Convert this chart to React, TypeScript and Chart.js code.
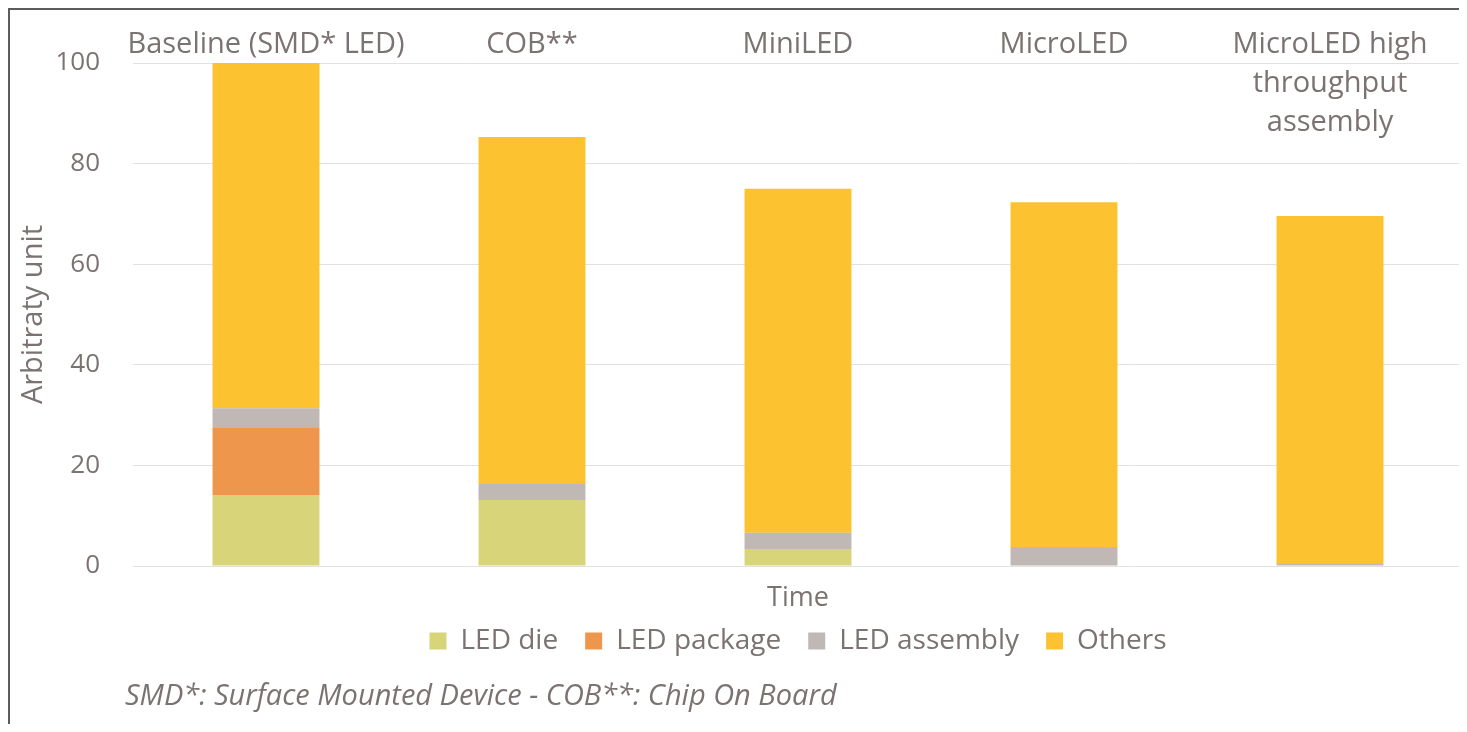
import React, { useEffect, useRef } from "react";
import { Chart, registerables } from "chart.js";

Chart.register(...registerables);

const categories: (string | string[])[] = [
  "Baseline (SMD* LED)",
  "COB**",
  "MiniLED",
  "MicroLED",
  ["MicroLED high", "throughput", "assembly"],
];

const ledDie = [14.1, 13.1, 3.4, 0, 0];
const ledPackage = [13.5, 0, 0, 0, 0];
const ledAssembly = [3.75, 3.2, 3.2, 3.8, 0.4];
const others = [68.65, 69.0, 68.4, 68.5, 69.2];

const yTicks = [0, 20, 40, 60, 80, 100];

const TEXT = "#7b7371";
const FONT = "'Open Sans'";

const topLabelsPlugin = {
  id: "topLabels",
  afterDraw(chart: any) {
    const { ctx, scales } = chart;
    const xs = scales.x;
    ctx.save();
    ctx.fillStyle = TEXT;
    ctx.font = `29px ${FONT}`;
    ctx.textAlign = "center";
    ctx.textBaseline = "middle";
    categories.forEach((lab, i) => {
      const lines = Array.isArray(lab) ? lab : [lab];
      const x = xs.getPixelForValue(i);
      lines.forEach((ln, j) => {
        ctx.fillText(ln, x, 35 + j * 39);
      });
    });
    ctx.restore();
  },
};

export default function App() {
  const ref = useRef<HTMLCanvasElement | null>(null);

  useEffect(() => {
    if (!ref.current) return;
    Chart.defaults.color = TEXT;
    Chart.defaults.font.family = FONT;
    const chart = new Chart(ref.current, {
      type: "bar",
      data: {
        labels: categories as any,
        datasets: [
          { label: "LED die", data: ledDie, backgroundColor: "#d8d47a", borderWidth: 0 },
          { label: "LED package", data: ledPackage, backgroundColor: "#ee964b", borderWidth: 0 },
          { label: "LED assembly", data: ledAssembly, backgroundColor: "#bfb8b5", borderWidth: 0 },
          { label: "Others", data: others, backgroundColor: "#fdc22f", borderWidth: 0 },
        ],
      },
      options: {
        animation: false,
        responsive: false,
        devicePixelRatio: 1,
        barPercentage: 0.402,
        categoryPercentage: 1,
        layout: { padding: { top: 53, left: 0, right: 0, bottom: 59 } },
        plugins: {
          tooltip: { enabled: false },
          legend: {
            position: "bottom",
            fullSize: false,
            labels: {
              boxWidth: 17,
              boxHeight: 17,
              padding: 27,
              color: TEXT,
              font: { size: 28, family: FONT },
            },
          },
        },
        scales: {
          x: {
            stacked: true,
            grid: { display: false, drawTicks: false },
            border: { display: false },
            ticks: { display: false },
            title: {
              display: true,
              text: "Time",
              color: TEXT,
              font: { size: 27, family: FONT, lineHeight: 1 },
              padding: { top: 18.5, bottom: -11.5 },
            },
          },
          y: {
            stacked: true,
            min: 0,
            max: 100,
            afterBuildTicks(scale: any) {
              scale.ticks = yTicks.map((v) => ({ value: v }));
            },
            afterFit(scale: any) {
              scale.width = 123;
            },
            grid: { color: "#e3e0de", lineWidth: 1, drawTicks: false },
            border: { display: false },
            ticks: {
              padding: 33,
              color: TEXT,
              font: { size: 26, family: FONT },
            },
            title: {
              display: true,
              text: "Arbitraty unit",
              color: TEXT,
              font: { size: 29, family: FONT, lineHeight: 1.2 },
              padding: { top: 6.6, bottom: 0 },
            },
          },
        },
      },
      plugins: [topLabelsPlugin],
    });
    return () => chart.destroy();
  }, []);

  return (
    <div
      style={{
        position: "relative",
        width: 1457,
        height: 716,
        boxSizing: "border-box",
        border: "2px solid #5c5c5c",
        borderBottom: "none",
        background: "#fff",
      }}
    >
      <canvas ref={ref} width={1453} height={714} style={{ display: "block", width: 1453, height: 714 }} />
      <div
        style={{
          position: "absolute",
          left: 115,
          top: 669,
          fontFamily: FONT,
          fontStyle: "italic",
          fontSize: 29,
          lineHeight: "30px",
          color: TEXT,
          whiteSpace: "nowrap",
        }}
      >
        SMD*: Surface Mounted Device - COB**: Chip On Board
      </div>
    </div>
  );
}
